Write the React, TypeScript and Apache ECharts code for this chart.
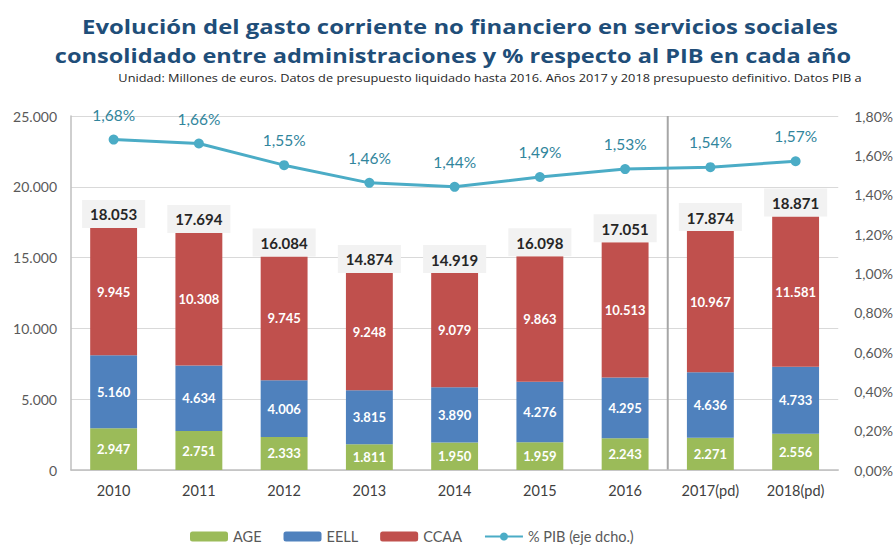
import React, { useEffect, useRef } from "react";
import * as echarts from "echarts";

const categories = ["2010", "2011", "2012", "2013", "2014", "2015", "2016", "2017(pd)", "2018(pd)"];
const age = [2947, 2751, 2333, 1811, 1950, 1959, 2243, 2271, 2556];
const eell = [5160, 4634, 4006, 3815, 3890, 4276, 4295, 4636, 4733];
// CCAA segment heights as drawn in the reference bars
const ccaaBar = [8990, 9360, 8730, 8290, 8070, 8860, 9540, 9970, 10620];
// CCAA values as printed on the bars
const ccaaLabels = [9945, 10308, 9745, 9248, 9079, 9863, 10513, 10967, 11581];
const totals = [18053, 17694, 16084, 14874, 14919, 16098, 17051, 17874, 18871];
const pib = [1.68, 1.66, 1.55, 1.46, 1.44, 1.49, 1.53, 1.54, 1.57];
const leftTicks = { min: 0, max: 25000, interval: 5000 };
const rightTicks = { min: 0, max: 1.8, interval: 0.2 };

const titleLine1 = "Evolución del gasto corriente no financiero en servicios sociales";
const titleLine2 = "consolidado entre administraciones y % respecto al PIB en cada año";
const subtitle =
  "Unidad: Millones de euros. Datos de presupuesto liquidado hasta 2016. Años 2017 y 2018 presupuesto definitivo. Datos PIB a";

const FONT = "Lato";
const TFONT = "Open Sans";
const fmtThousands = (v: number) => String(Math.round(v)).replace(/\B(?=(\d{3})+(?!\d))/g, ".");
const fmtPct = (v: number) => v.toFixed(2).replace(".", ",") + "%";

const measure = (text: string, font: string) => {
  const t = new echarts.graphic.Text({ style: { text, font } });
  return t.getBoundingRect().width || 1;
};

export default function App() {
  const ref = useRef<HTMLDivElement>(null);
  useEffect(() => {
    if (!ref.current) return;
    const chart = echarts.init(ref.current, undefined, { renderer: "svg" });
    const innerLabel = (arr: number[]) => ({
      show: true,
      position: "inside" as const,
      color: "#ffffff",
      fontFamily: FONT,
      fontWeight: "bold" as const,
      fontSize: 13,
      formatter: (p: any) => fmtThousands(arr[p.dataIndex]),
    });

    const tFont = `bold 19px '${TFONT}'`;
    const sFont = `normal 11px '${TFONT}'`;
    const s1 = 756 / measure(titleLine1, tFont);
    const s2 = 797 / measure(titleLine2, tFont);
    const s3 = 744 / measure(subtitle, sFont);
    const titleText = (text: string, x: number, y: number, sx: number, bold: boolean) => ({
      type: "text",
      x,
      y,
      scaleX: sx,
      style: {
        text,
        fontFamily: TFONT,
        fontWeight: bold ? "bold" : "normal",
        fontSize: bold ? 19 : 11,
        fill: bold ? "#1f4e79" : "#262626",
        align: "center",
        verticalAlign: "middle",
      },
    });

    chart.setOption({
      animation: false,
      textStyle: { fontFamily: FONT },
      legend: {
        top: 524,
        left: 185,
        data: ["AGE", "EELL", "CCAA", "% PIB (eje dcho.)"],
        itemWidth: 38,
        itemHeight: 10,
        itemGap: 22,
        textStyle: { fontFamily: FONT, fontSize: 14.5, color: "#595959" },
      },
      grid: { left: 71, right: 54, top: 116, bottom: 75 },
      xAxis: {
        type: "category",
        data: categories,
        axisLine: { lineStyle: { color: "#bfbfbf", width: 1.5 } },
        axisTick: { show: false },
        axisLabel: { color: "#404040", fontSize: 14.5, fontFamily: FONT, margin: 13 },
      },
      yAxis: [
        {
          type: "value",
          ...leftTicks,
          axisLine: { show: true, lineStyle: { color: "#bfbfbf", width: 1.5 } },
          axisTick: { show: false },
          splitLine: { lineStyle: { color: "#d9d9d9" } },
          axisLabel: { color: "#595959", fontSize: 14, fontFamily: FONT, margin: 14, formatter: fmtThousands },
        },
        {
          type: "value",
          ...rightTicks,
          axisLine: { show: false },
          axisTick: { show: false },
          splitLine: { show: false },
          axisLabel: { color: "#595959", fontSize: 14, fontFamily: FONT, margin: 16, formatter: fmtPct },
        },
      ],
      series: [
        {
          name: "AGE",
          type: "bar",
          stack: "g",
          data: age,
          barWidth: "55%",
          itemStyle: { color: "#9bbb59" },
          label: innerLabel(age),
        },
        {
          name: "EELL",
          type: "bar",
          stack: "g",
          data: eell,
          itemStyle: { color: "#4f81bd" },
          label: innerLabel(eell),
        },
        {
          name: "CCAA",
          type: "bar",
          stack: "g",
          data: ccaaBar,
          itemStyle: { color: "#c0504d" },
          label: innerLabel(ccaaLabels),
        },
        {
          name: "Total",
          type: "bar",
          stack: "g",
          data: totals.map(() => 0),
          itemStyle: { color: "transparent" },
          label: {
            show: true,
            position: "top",
            distance: 0,
            color: "#262626",
            fontFamily: FONT,
            fontWeight: "bold",
            fontSize: 15,
            backgroundColor: "#f2f2f2",
            padding: [7, 8, 6, 8],
            formatter: (p: any) => fmtThousands(totals[p.dataIndex]),
          },
        },
        {
          name: "% PIB (eje dcho.)",
          type: "line",
          yAxisIndex: 1,
          data: pib,
          symbol: "circle",
          symbolSize: 10,
          lineStyle: { color: "#4bacc6", width: 3 },
          itemStyle: { color: "#4bacc6" },
          label: {
            show: true,
            position: "top",
            distance: 12,
            color: "#31859c",
            fontFamily: FONT,
            fontSize: 15.5,
            formatter: (p: any) => fmtPct(pib[p.dataIndex]),
          },
        },
      ],
    });
    const x1 = chart.convertToPixel({ xAxisIndex: 0 }, categories[6]) as number;
    const x2 = chart.convertToPixel({ xAxisIndex: 0 }, categories[7]) as number;
    const yTop = chart.convertToPixel({ yAxisIndex: 0 }, leftTicks.max) as number;
    const yBot = chart.convertToPixel({ yAxisIndex: 0 }, leftTicks.min) as number;
    const xm = (x1 + x2) / 2;
    chart.setOption({
      graphic: [
        {
          type: "line",
          shape: { x1: xm, y1: yTop, x2: xm, y2: yBot },
          style: { stroke: "#a6a6a6", lineWidth: 2 },
          z: 0,
        },
        titleText(titleLine1, 460, 27, s1, true),
        titleText(titleLine2, 453, 55, s2, true),
        titleText(subtitle, 490, 77, s3, false),
      ],
    });
    return () => chart.dispose();
  }, []);
  return <div ref={ref} style={{ position: "fixed", left: 0, top: 0, width: 896, height: 545, background: "#fff" }} />;
}
